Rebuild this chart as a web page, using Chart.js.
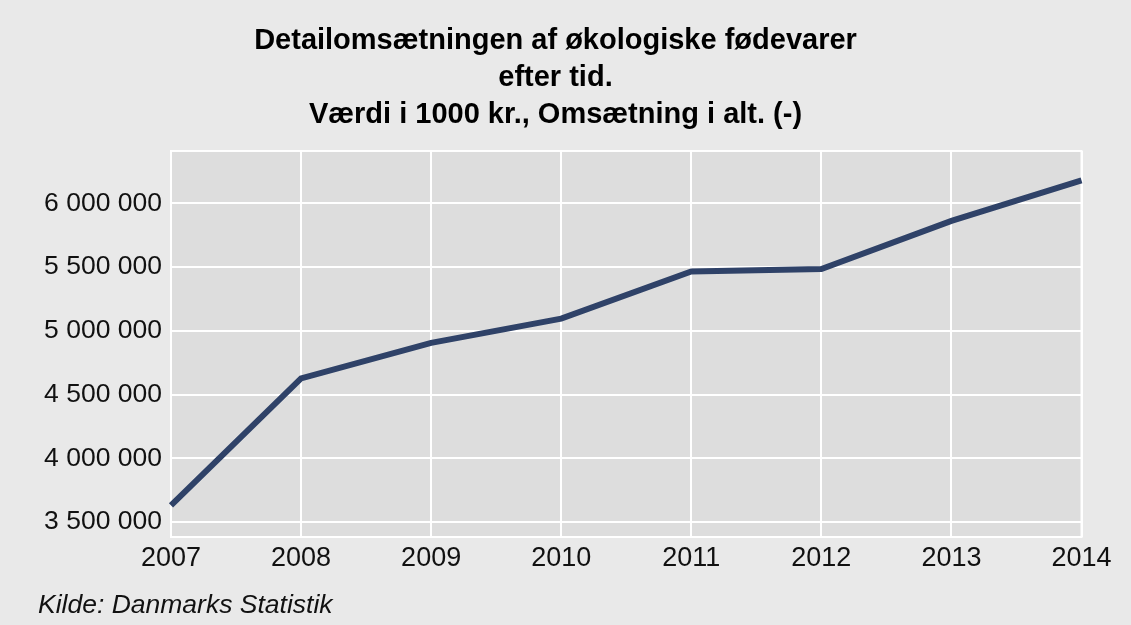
<!DOCTYPE html>
<html>
<head>
<meta charset="utf-8">
<script src="https://cdn.jsdelivr.net/npm/chart.js@4"></script>
<style>
    html, body { margin: 0; padding: 0; background: #e9e9e9; }
    canvas { display: block; }
</style>
</head>
<body>
<canvas id="salesChart" width="1131" height="625"></canvas>
<script>
// Detailomsætning af økologiske fødevarer, 1000 kr.
const years = ['2007', '2008', '2009', '2010', '2011', '2012', '2013', '2014'];
const salesValues = [3630000, 4627000, 4905000, 5095000, 5465000, 5484000, 5862000, 6181000];
const yTickValues = [3500000, 4000000, 4500000, 5000000, 5500000, 6000000];
const titleLines = [
    'Detailomsætningen af økologiske fødevarer',
    'efter tid.',
    'Værdi i 1000 kr., Omsætning i alt. (-)'
];
const sourceText = 'Kilde: Danmarks Statistik';
const yMin = 3382000;
const yMax = 6411000;

// tal med mellemrum som tusindtalsseparator
function formatNumber(v) {
    return String(Math.round(v)).replace(/\B(?=(\d{3})+(?!\d))/g, ' ');
}

// grå plotflade med hvid kant + kildeangivelse
const plotFrame = {
    id: 'plotFrame',
    beforeDraw(chart) {
        const { ctx, chartArea: a } = chart;
        ctx.save();
        ctx.fillStyle = '#dddddd';
        ctx.fillRect(a.left, a.top, a.right - a.left, a.bottom - a.top);
        ctx.restore();
    },
    beforeDatasetsDraw(chart) {
        const { ctx, chartArea: a } = chart;
        ctx.save();
        ctx.strokeStyle = '#ffffff';
        ctx.lineWidth = 2;
        ctx.strokeRect(a.left, a.top, a.right - a.left, a.bottom - a.top);
        ctx.restore();
    },
    afterDraw(chart) {
        const ctx = chart.ctx;
        ctx.save();
        ctx.font = 'italic 26.5px "Liberation Sans", Arial, sans-serif';
        ctx.fillStyle = '#111111';
        ctx.textBaseline = 'middle';
        ctx.textAlign = 'left';
        ctx.fillText(sourceText, 38, 606);
        ctx.restore();
    }
};

const ctx = document.getElementById('salesChart').getContext('2d');
new Chart(ctx, {
    type: 'line',
    data: {
        labels: years,
        datasets: [{
            label: 'Omsætning i alt',
            data: salesValues,
            borderColor: '#2f4268',
            borderWidth: 6,
            pointRadius: 0,
            tension: 0,
            fill: false
        }]
    },
    options: {
        responsive: false,
        animation: false,
        layout: { padding: { left: 0, right: 20, top: 0, bottom: 0 } },
        plugins: {
            legend: { display: false },
            tooltip: { enabled: false },
            title: {
                display: true,
                text: titleLines,
                color: '#000000',
                font: { family: '"Liberation Sans", Arial, sans-serif', size: 29, weight: 'bold', lineHeight: 1.28 },
                padding: { top: 22, bottom: 17.6 }
            }
        },
        scales: {
            x: {
                offset: false,
                grid: { color: '#ffffff', lineWidth: 2, drawTicks: false },
                border: { display: false },
                ticks: {
                    color: '#111111',
                    font: { family: '"Liberation Sans", Arial, sans-serif', size: 27 },
                    padding: 5,
                    maxRotation: 0,
                    autoSkip: false
                },
                afterFit(scale) { scale.height = 88; }
            },
            y: {
                min: yMin,
                max: yMax,
                grid: { color: '#ffffff', lineWidth: 2, drawTicks: false },
                border: { display: false },
                afterBuildTicks(scale) {
                    scale.ticks = yTickValues.map(v => ({ value: v }));
                },
                ticks: {
                    color: '#111111',
                    font: { family: '"Liberation Sans", Arial, sans-serif', size: 26.5 },
                    padding: 9,
                    callback: value => formatNumber(value)
                },
                afterFit(scale) { scale.width = 171; }
            },
            // tom højre akse, kun for at give plads til 2014-etiketten
            yRight: {
                position: 'right',
                min: yMin,
                max: yMax,
                grid: { display: false },
                border: { display: false },
                ticks: { display: false },
                afterFit(scale) { scale.width = 29.5; }
            }
        }
    },
    plugins: [plotFrame]
});
</script>
</body>
</html>
